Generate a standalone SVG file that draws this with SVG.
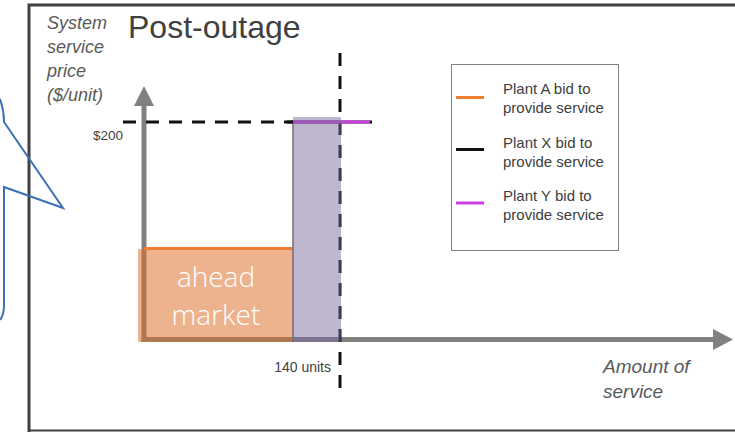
<svg xmlns="http://www.w3.org/2000/svg" width="735" height="432" viewBox="0 0 735 432">
  <style>
    .frame { stroke: #404040; fill: none; }
    .axis { stroke: #808080; stroke-width: 5; fill: none; }
    .dash { stroke: #111111; stroke-width: 3; stroke-dasharray: 13 10; fill: none; }
    .ital { font-family: "Liberation Sans", Arial, sans-serif; font-style: italic; fill: #595959; }
    .lbl { font-family: "Liberation Sans", Arial, sans-serif; fill: #404040; }
    .big { font-family: "Open Sans", "Liberation Sans", sans-serif; font-weight: 300; font-size: 28px; fill: #ffffff; text-anchor: middle; }
  </style>

  <rect width="735" height="432" fill="#ffffff"/>

  <!-- slide frame -->
  <g id="frame">
    <path class="frame" stroke-width="3" d="M29,432 V5 H735"/>
    <path class="frame" stroke-width="2" d="M28,430.5 H735"/>
  </g>

  <!-- callout outline at the left edge -->
  <g id="callout">
    <path d="M0,99 Q4,110 4,122 L63,208 L4,187 V305 Q4,315 0,320" fill="none" stroke="#3a70b8" stroke-width="2" stroke-linejoin="miter"/>
  </g>

  <!-- title -->
  <g id="title">
    <text class="lbl" x="128" y="38" font-size="32" fill="#404040">Post-outage</text>
  </g>

  <!-- axis labels -->
  <g id="y-label" class="ital" font-size="18">
    <text x="47" y="29">System</text>
    <text x="47" y="53">service</text>
    <text x="47" y="77">price</text>
    <text x="47" y="101">($/unit)</text>
  </g>
  <g id="x-label" class="ital" font-size="19">
    <text x="603" y="373">Amount of</text>
    <text x="603" y="398">service</text>
  </g>

  <!-- axes -->
  <g id="axes">
    <path class="axis" d="M144,342 V104"/>
    <polygon points="134,106 144,86 154,106" fill="#808080"/>
    <path class="axis" d="M141.5,339.5 H715"/>
    <polygon points="713,329 733,339.5 713,350" fill="#808080"/>
  </g>

  <!-- price and quantity guides -->
  <g id="guides">
    <path class="dash" d="M123,122 H293"/>
    <path class="dash" d="M340,53 V396"/>
    <text class="lbl" x="123" y="140" font-size="13.5" text-anchor="end">$200</text>
    <text class="lbl" x="331" y="372" font-size="14" text-anchor="end">140 units</text>
  </g>

  <!-- supply steps -->
  <g id="plant-a">
    <rect x="138" y="249" width="155" height="93" fill="#dc6d26" fill-opacity="0.52"/>
    <path d="M144,248.5 H293" stroke="#ed7d31" stroke-width="3"/>
    <text class="big" x="216" y="287">ahead</text>
    <text class="big" x="216" y="325">market</text>
  </g>
  <g id="plant-xy">
    <path d="M293,120 V342" stroke="#6f6f6f" stroke-width="1.5"/>
    <path d="M287,122 H372" stroke="#111111" stroke-width="3"/>
    <path d="M293,122 H370" stroke="#cc3ee0" stroke-width="3"/>
    <rect x="293" y="117" width="48" height="225" fill="#7a689c" fill-opacity="0.48"/>
  </g>

  <!-- legend -->
  <g id="legend">
    <rect x="451.5" y="64.5" width="167" height="186" fill="#ffffff" stroke="#7f7f7f" stroke-width="1"/>
    <path d="M456,97.5 H484" stroke="#ed7d31" stroke-width="3"/>
    <path d="M456,149.5 H484" stroke="#111111" stroke-width="3"/>
    <path d="M456,203 H484" stroke="#cc3ee0" stroke-width="3"/>
    <g class="lbl" font-size="15">
      <text x="503" y="94">Plant A bid to</text>
      <text x="503" y="113">provide service</text>
      <text x="503" y="148">Plant X bid to</text>
      <text x="503" y="167">provide service</text>
      <text x="503" y="201">Plant Y bid to</text>
      <text x="503" y="220">provide service</text>
    </g>
  </g>
</svg>
